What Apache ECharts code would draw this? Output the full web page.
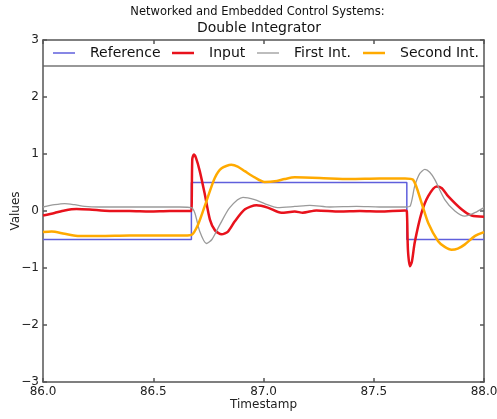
<!DOCTYPE html>
<html>
<head>
<meta charset="utf-8">
<script src="https://cdn.jsdelivr.net/npm/echarts@6/dist/echarts.min.js"></script>
<style>
html,body{margin:0;padding:0;background:#fff;}
#chart{width:497px;height:419px;}
</style>
</head>
<body>
<div id="chart"></div>
<script>
// ---- Data ----
var titleLine1 = 'Networked and Embedded Control Systems:';
var titleLine2 = 'Double Integrator';
var seriesNames = ['Reference', 'Input', 'First Int.', 'Second Int.'];
var xTicks = [86.0, 86.5, 87.0, 87.5, 88.0];
var yTicks = [-3, -2, -1, 0, 1, 2, 3];

var refTime   = [86.0, 86.673, 86.673, 87.65, 87.65, 88.0];
var refValues = [-0.5, -0.5, 0.5, 0.5, -0.5, -0.5];

var inputTime = [86.000, 86.052, 86.098, 86.152, 86.211, 86.302, 86.393, 86.484, 86.575, 86.666, 86.673,
  86.677, 86.684, 86.693, 86.711, 86.734, 86.757, 86.780, 86.810, 86.839, 86.870, 86.916, 86.968,
  87.019, 87.081, 87.142, 87.178, 87.240, 87.346, 87.437, 87.528, 87.642, 87.650, 87.655, 87.664,
  87.673, 87.686, 87.717, 87.747, 87.785, 87.809, 87.837, 87.898, 87.944, 88.000];
var inputValues = [-0.08, -0.035, 0.01, 0.035, 0.026, 0.0, 0.0, -0.01, 0.0, 0.0, 0.0,
  0.91, 0.99, 0.94, 0.70, 0.29, -0.15, -0.34, -0.41, -0.36, -0.18, 0.03, 0.10,
  0.06, -0.03, -0.01, -0.03, 0.01, -0.01, 0.0, -0.01, 0.01, 0.0, -0.68, -0.97,
  -0.89, -0.55, -0.03, 0.26, 0.43, 0.40, 0.26, 0.03, -0.08, -0.10];

var firstTime = [86.000, 86.052, 86.098, 86.143, 86.189, 86.257, 86.348, 86.439, 86.530, 86.620, 86.673,
  86.689, 86.711, 86.741, 86.766, 86.802, 86.847, 86.907, 86.960, 87.005, 87.064, 87.142, 87.210,
  87.301, 87.422, 87.527, 87.642, 87.664, 87.686, 87.709, 87.732, 87.754, 87.777, 87.822, 87.868,
  87.913, 87.958, 88.000];
var firstValues = [0.07, 0.11, 0.13, 0.11, 0.08, 0.07, 0.07, 0.07, 0.07, 0.07, 0.06,
  -0.04, -0.36, -0.57, -0.50, -0.24, 0.06, 0.24, 0.20, 0.13, 0.06, 0.08, 0.10,
  0.07, 0.08, 0.07, 0.07, 0.08, 0.44, 0.66, 0.73, 0.68, 0.55, 0.20, 0.0,
  -0.09, -0.03, 0.06];

var secondTime = [86.000, 86.039, 86.098, 86.166, 86.257, 86.393, 86.530, 86.643, 86.673, 86.703, 86.741,
  86.779, 86.810, 86.854, 86.883, 86.915, 86.960, 87.005, 87.051, 87.096, 87.142, 87.255, 87.391,
  87.527, 87.642, 87.678, 87.717, 87.747, 87.792, 87.822, 87.853, 87.881, 87.912, 87.958, 88.000];
var secondValues = [-0.37, -0.36, -0.40, -0.44, -0.44, -0.43, -0.43, -0.43, -0.42, -0.24, 0.17,
  0.58, 0.75, 0.81, 0.78, 0.70, 0.59, 0.51, 0.52, 0.56, 0.59, 0.58, 0.56,
  0.57, 0.57, 0.55, 0.14, -0.21, -0.53, -0.63, -0.68, -0.66, -0.59, -0.44, -0.37];

// ---- Build chart ----
function zip(t, v) { return t.map(function (x, i) { return [x, v[i]]; }); }

var FONT = 'DejaVu Sans';
var colors = ['#5f5fdc', '#e8121c', '#9a9a9a', '#ffaa00'];
var widths = [1.5, 2.5, 1.3, 2.5];
var legendLeft = [53, 172, 257, 363];

var axisLineStyle = { color: '#555', width: 1.5 };

var chart = echarts.init(document.getElementById('chart'), null, { renderer: 'canvas' });

var option = {
  animation: false,
  backgroundColor: '#fff',
  graphic: [
    { type: 'text', x: 257.5, y: 12, z: 10,
      style: { text: titleLine1, font: '11.5px "' + FONT + '"', fill: '#111', align: 'center', verticalAlign: 'middle' } },
    { type: 'text', x: 259, y: 28, z: 10,
      style: { text: titleLine2, font: '14px "' + FONT + '"', fill: '#111', align: 'center', verticalAlign: 'middle' } },
    { type: 'line', z: 10,
      shape: { x1: 43.5, y1: 66, x2: 484, y2: 66 },
      style: { stroke: '#333', lineWidth: 1.2 } }
  ],
  legend: seriesNames.map(function (name, i) {
    return {
      data: [name],
      left: legendLeft[i],
      top: 46,
      padding: 0,
      icon: 'rect',
      itemWidth: 22,
      itemHeight: widths[i],
      itemStyle: { color: colors[i], borderWidth: 0 },
      textStyle: { fontFamily: FONT, fontSize: 14, color: '#111', padding: [0, 0, 0, 10] }
    };
  }),
  grid: { left: 43, top: 40, width: 441, height: 342, containLabel: false, outerBoundsMode: 'none' },
  xAxis: [
    {
      type: 'value', min: xTicks[0], max: xTicks[xTicks.length - 1], interval: 0.5,
      name: 'Timestamp', nameLocation: 'middle', nameGap: 17, nameMoveOverlap: false,
      nameTextStyle: { fontFamily: FONT, fontSize: 12, color: '#222' },
      axisLine: { show: true, onZero: false, lineStyle: axisLineStyle },
      axisTick: { show: true, inside: true, length: 4, lineStyle: axisLineStyle },
      axisLabel: { fontFamily: FONT, fontSize: 12, color: '#222', margin: 4,
        formatter: function (v) { return v.toFixed(1); } },
      splitLine: { show: false }
    },
    {
      type: 'value', position: 'top', min: xTicks[0], max: xTicks[xTicks.length - 1], interval: 0.5,
      axisLine: { show: true, onZero: false, lineStyle: axisLineStyle },
      axisTick: { show: true, inside: true, length: 4, lineStyle: axisLineStyle },
      axisLabel: { show: false },
      splitLine: { show: false }
    }
  ],
  yAxis: [
    {
      type: 'value', min: yTicks[0], max: yTicks[yTicks.length - 1], interval: 1,
      name: 'Values', nameLocation: 'middle', nameGap: 21, nameRotate: 90, nameMoveOverlap: false,
      nameTextStyle: { fontFamily: FONT, fontSize: 12, color: '#222' },
      axisLine: { show: true, onZero: false, lineStyle: axisLineStyle },
      axisTick: { show: true, inside: true, length: 4, lineStyle: axisLineStyle },
      axisLabel: { fontFamily: FONT, fontSize: 12, color: '#222', margin: 4,
        formatter: function (v) { return String(v).replace('-', '\u2212'); } },
      splitLine: { show: false }
    },
    {
      type: 'value', position: 'right', min: yTicks[0], max: yTicks[yTicks.length - 1], interval: 1,
      axisLine: { show: true, onZero: false, lineStyle: axisLineStyle },
      axisTick: { show: true, inside: true, length: 4, lineStyle: axisLineStyle },
      axisLabel: { show: false },
      splitLine: { show: false }
    }
  ],
  series: [
    [refTime, refValues], [inputTime, inputValues], [firstTime, firstValues], [secondTime, secondValues]
  ].map(function (pair, i) {
    return {
      name: seriesNames[i],
      type: 'line',
      xAxisIndex: 0,
      yAxisIndex: 0,
      data: zip(pair[0], pair[1]),
      symbol: 'none',
      showSymbol: false,
      smooth: i === 0 ? false : 0.25,
      color: colors[i],
      lineStyle: { color: colors[i], width: widths[i] }
    };
  })
};

chart.setOption(option);
</script>
</body>
</html>
